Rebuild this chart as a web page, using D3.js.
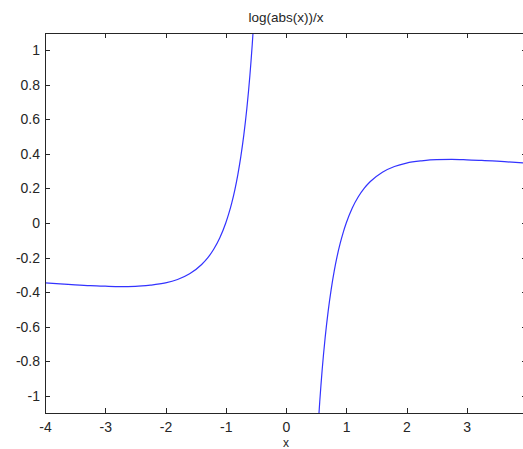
<!DOCTYPE html>
<html>
<meta charset="utf-8">
<style>
body {
	margin: 0;
	background: #fff;
}

svg {
	display: block;
}

.axis path, .axis line {
	stroke: #262626;
	shape-rendering: crispEdges;
}

.axis text {
	fill: #262626;
	font: 14px "Liberation Sans", Arial, sans-serif;
}

.curve {
	fill: none;
	stroke: #3333ff;
	stroke-width: 1.2px;
}

.title {
	fill: #262626;
	font: 13.5px "Liberation Sans", Arial, sans-serif;
}

.xlabel {
	fill: #262626;
	font: 12px "Liberation Sans", Arial, sans-serif;
}
</style>

<body>
<svg id="chart" width="523" height="449"></svg>

<script src="https://d3js.org/d3.v7.min.js"></script>

<script>
// points, left branch (x < 0)
var leftX = [-4, -3.75, -3.5, -3.25, -3, -2.75, -2.5, -2.25, -2, -1.8, -1.6, -1.4, -1.3, -1.2, -1.1,
	-1, -0.95, -0.9, -0.85, -0.8, -0.75, -0.7, -0.65, -0.6, -0.58, -0.56, -0.545];
var leftY = [-0.347, -0.352, -0.358, -0.363, -0.366, -0.368, -0.367, -0.36, -0.347, -0.327, -0.294, -0.24, -0.202, -0.152, -0.087,
	0, 0.054, 0.117, 0.191, 0.279, 0.384, 0.51, 0.663, 0.851, 0.939, 1.035, 1.114];

// right branch (x > 0)
var rightX = [0.545, 0.56, 0.58, 0.6, 0.65, 0.7, 0.75, 0.8, 0.85, 0.9, 0.95, 1,
	1.1, 1.2, 1.3, 1.4, 1.6, 1.8, 2, 2.25, 2.5, 2.75, 3, 3.25, 3.5, 3.75, 4];
var rightY = [-1.114, -1.035, -0.939, -0.851, -0.663, -0.51, -0.384, -0.279, -0.191, -0.117, -0.054, 0,
	0.087, 0.152, 0.202, 0.24, 0.294, 0.327, 0.347, 0.36, 0.367, 0.368, 0.366, 0.363, 0.358, 0.352, 0.347];

var xTicks = [-4, -3, -2, -1, 0, 1, 2, 3];
var yTicks = [-1, -0.8, -0.6, -0.4, -0.2, 0, 0.2, 0.4, 0.6, 0.8, 1];

var margin = {top: 33, right: -4, bottom: 36, left: 45};
var width = 523 - margin.left - margin.right;
var height = 449 - margin.top - margin.bottom;

var svg = d3.select("#chart");
var g = svg.append("g")
	.attr("transform", "translate(" + margin.left + "," + margin.top + ")");

var x = d3.scaleLinear()
	.domain([-4, 4])
	.range([0, width]);

var y = d3.scaleLinear()
	.domain([-1.1, 1.1])
	.range([height, 0]);

g.append("clipPath")
	.attr("id", "clip")
	.append("rect")
	.attr("width", width)
	.attr("height", height);

var line = d3.line()
	.x(function(d) { return x(d[0]); })
	.y(function(d) { return y(d[1]); })
	.curve(d3.curveMonotoneX);

[[leftX, leftY], [rightX, rightY]].forEach(function(s) {
	g.append("path")
		.attr("class", "curve")
		.attr("clip-path", "url(#clip)")
		.attr("d", line(d3.zip(s[0], s[1])));
});

// box axes, ticks pointing in like matlab, plain hyphen for minus
var fmt = function(d) { return String(d); };

g.append("g")
	.attr("class", "axis")
	.attr("transform", "translate(0," + height + ")")
	.call(d3.axisBottom(x).tickValues(xTicks).tickSizeInner(-5).tickSizeOuter(0).tickPadding(9).tickFormat(fmt));

g.append("g")
	.attr("class", "axis")
	.call(d3.axisTop(x).tickValues(xTicks).tickSizeInner(-5).tickSizeOuter(0).tickFormat(""));

g.append("g")
	.attr("class", "axis")
	.call(d3.axisLeft(y).tickValues(yTicks).tickSizeInner(-5).tickSizeOuter(0).tickPadding(5).tickFormat(fmt));

g.append("g")
	.attr("class", "axis")
	.attr("transform", "translate(" + width + ",0)")
	.call(d3.axisRight(y).tickValues(yTicks).tickSizeInner(-5).tickSizeOuter(0).tickFormat(""));

g.append("text")
	.attr("class", "title")
	.attr("x", x(0))
	.attr("y", -11)
	.attr("text-anchor", "middle")
	.text("log(abs(x))/x");

g.append("text")
	.attr("class", "xlabel")
	.attr("x", x(0))
	.attr("y", height + 34)
	.attr("text-anchor", "middle")
	.text("x");
</script>
</body>
</html>
